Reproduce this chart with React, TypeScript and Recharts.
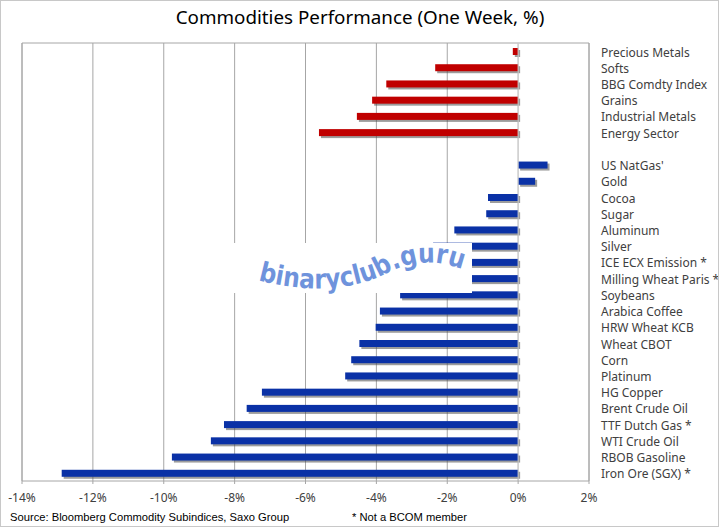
import React from "react"
import { BarChart, Bar, XAxis, YAxis, CartesianGrid, ReferenceLine, Cell } from "recharts"

// sector indices (red) and single commodities (blue), one week change in %
const sectorNames = ["Precious Metals", "Softs", "BBG Comdty Index", "Grains", "Industrial Metals", "Energy Sector"]
const sectorValues = [-0.15, -2.34, -3.72, -4.12, -4.55, -5.62]

const commodityNames = [
  "US NatGas'", "Gold", "Cocoa", "Sugar", "Aluminum", "Silver",
  "ICE ECX Emission *", "Milling Wheat Paris *", "Soybeans", "Arabica Coffee",
  "HRW Wheat KCB", "Wheat CBOT", "Corn", "Platinum", "HG Copper",
  "Brent Crude Oil", "TTF Dutch Gas *", "WTI Crude Oil", "RBOB Gasoline", "Iron Ore (SGX) *",
]
const commodityValues = [
  0.83, 0.48, -0.85, -0.9, -1.8, -2.4,
  -2.6, -3.0, -3.33, -3.9,
  -4.02, -4.48, -4.71, -4.88, -7.23,
  -7.66, -8.3, -8.67, -9.77, -12.88,
]

const xTicks = [-14, -12, -10, -8, -6, -4, -2, 0, 2]

const RED = "#C00000"
const BLUE = "#0A31A6"
const FONT = "'Noto Sans', sans-serif"

const data = [
  ...sectorNames.map((name, i) => ({ name, value: sectorValues[i], color: RED })),
  { name: " ", value: null, color: BLUE },
  ...commodityNames.map((name, i) => ({ name, value: commodityValues[i], color: BLUE })),
]

const ShadowBar = (props: any) => {
  const { x, y, width, height, fill } = props
  if (width == null || height == null) return null
  const left = Math.min(x, x + width)
  const w = Math.abs(width)
  return (
    <g>
      <rect x={left + 2} y={y + 2} width={w} height={height} fill="#4a4a4a" opacity={0.55} />
      <rect x={left} y={y} width={w} height={height} fill={fill} />
    </g>
  )
}

const NameTick = (props: any) => {
  const { x, y, payload } = props
  return (
    <text x={x} y={y} dy="0.45em" textAnchor="start" fill="#404040" fontSize={12} fontFamily={FONT}>
      {payload.value}
    </text>
  )
}

export default function App() {
  return (
    <div style={{ position: "absolute", left: 0, top: 0, width: 720, height: 528, background: "#fff" }}>
      <div
        style={{
          position: "absolute", left: 0, top: 4, width: 720, textAlign: "center",
          fontFamily: FONT, fontSize: 18.8, color: "#000",
        }}
      >
        Commodities Performance (One Week, %)
      </div>
      <BarChart
        layout="vertical"
        width={720}
        height={528}
        data={data}
        margin={{ top: 43, right: 0, bottom: 27, left: 22 }}
        barCategoryGap={0}
      >
        <CartesianGrid
          stroke="#a6a6a6"
          horizontalCoordinatesGenerator={({ offset }: any) => [offset.top]}
        />
        <XAxis
          type="number"
          domain={[-14, 2]}
          ticks={xTicks}
          tickFormatter={(v: number) => `${v}%`}
          axisLine={{ stroke: "#a6a6a6" }}
          tickLine={{ stroke: "#a6a6a6" }}
          tickSize={3}
          tickMargin={9}
          tick={{ fill: "#404040", fontSize: 12, fontFamily: FONT }}
          height={20}
        />
        <YAxis
          type="category"
          dataKey="name"
          orientation="right"
          width={131}
          axisLine={false}
          tickLine={false}
          tickSize={0}
          tickMargin={12}
          interval={0}
          tick={<NameTick />}
        />
        <ReferenceLine x={-14} stroke="#a6a6a6" />
        <ReferenceLine x={2} stroke="#a6a6a6" />
        <ReferenceLine x={0} stroke="#d9d9d9" />
        <Bar dataKey="value" barSize={7} isAnimationActive={false} shape={<ShadowBar />}>
          {data.map((d, i) => (
            <Cell key={`cell-${i}`} fill={d.color} />
          ))}
        </Bar>
      </BarChart>
      <svg width={720} height={528} style={{ position: "absolute", left: 0, top: 0, pointerEvents: "none" }}>
        <rect x={226} y={243} width={246} height={50} fill="#fff" />
        <defs>
          <path id="wm" d="M 258 280 C 300 292, 350 292, 385 274 S 445 262, 470 272" />
        </defs>
        <text
          fill="#6F93DC"
          fontFamily="'DejaVu Sans', sans-serif"
          fontWeight="bold"
          fontSize={27}
          textLength={210}
          lengthAdjust="spacingAndGlyphs"
        >
          <textPath href="#wm">binaryclub.guru</textPath>
        </text>
        <text x={10} y={521} fontFamily="'Liberation Sans', sans-serif" fontSize={11.2} fill="#000">
          Source: Bloomberg Commodity Subindices, Saxo Group
        </text>
        <text x={352} y={521} fontFamily="'Liberation Sans', sans-serif" fontSize={11.2} fill="#000">
          * Not a BCOM member
        </text>
        <rect x={0.5} y={0.5} width={718} height={526} fill="none" stroke="#c8c8c8" />
      </svg>
    </div>
  )
}
